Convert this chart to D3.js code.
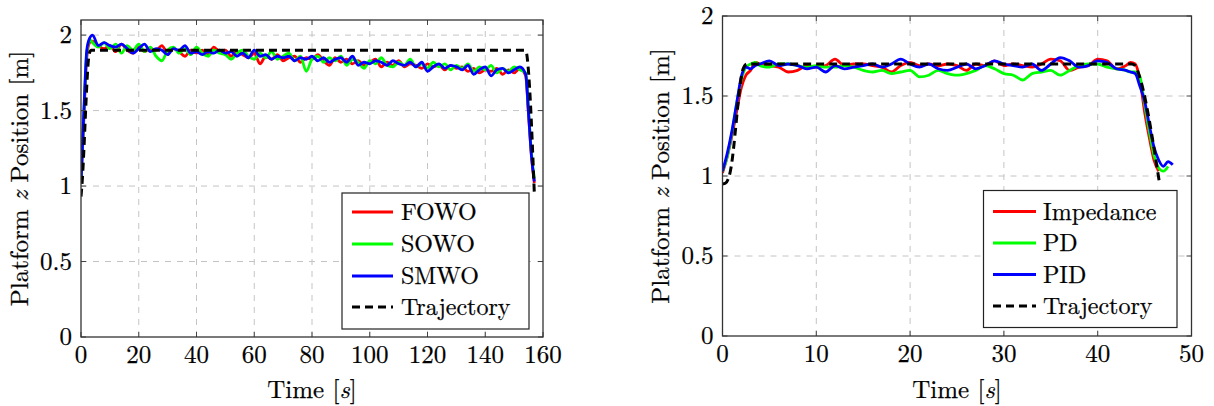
<!DOCTYPE html>
<html>
<head>
<meta charset="utf-8">
<script src="https://cdn.jsdelivr.net/npm/d3@7"></script>
<style>
  html, body { margin: 0; padding: 0; background: #fff; }
  svg { display: block; }
</style>
</head>
<body>
<svg id="chart" width="1214" height="406"></svg>
<script>
// ---------------- Left chart data ----------------
const timeLeft = [0,1,2,3,4,6,8,10,12,14,
  16,18,20,22,24,26,28,30,32,34,
  36,38,40,42,44,46,48,50,52,54,
  56,58,60,62,64,66,68,70,72,74,
  76,78,80,82,84,86,88,90,92,94,
  96,98,100,102,104,106,108,110,112,114,
  116,118,120,122,124,126,128,130,132,134,
  136,138,140,142,144,146,148,150,152,154,
  155,156,157];
const fowo = [1.02,1.45,1.85,1.95,1.96,1.93,1.91,1.93,1.89,1.94,
  1.90,1.88,1.92,1.89,1.91,1.90,1.93,1.88,1.91,1.89,
  1.86,1.90,1.88,1.90,1.87,1.92,1.89,1.90,1.86,1.89,
  1.87,1.85,1.88,1.81,1.86,1.84,1.87,1.83,1.85,1.86,
  1.82,1.85,1.84,1.87,1.83,1.80,1.85,1.82,1.84,1.81,
  1.83,1.80,1.82,1.84,1.79,1.82,1.80,1.83,1.79,1.81,
  1.80,1.78,1.81,1.79,1.80,1.77,1.80,1.78,1.79,1.76,
  1.78,1.75,1.77,1.76,1.78,1.74,1.77,1.75,1.78,1.73,
  1.47,1.20,1.02];
const sowo = [1.03,1.48,1.88,1.97,1.95,1.92,1.95,1.91,1.94,1.88,
  1.93,1.90,1.94,1.89,1.92,1.86,1.83,1.90,1.92,1.88,
  1.91,1.87,1.92,1.88,1.86,1.90,1.88,1.87,1.84,1.88,
  1.90,1.86,1.84,1.88,1.85,1.89,1.84,1.86,1.88,1.83,
  1.86,1.76,1.84,1.86,1.82,1.85,1.83,1.86,1.80,1.84,
  1.82,1.78,1.83,1.81,1.85,1.80,1.79,1.82,1.80,1.84,
  1.79,1.81,1.78,1.82,1.79,1.81,1.77,1.80,1.78,1.81,
  1.76,1.79,1.77,1.80,1.75,1.78,1.76,1.79,1.77,1.75,
  1.50,1.22,1.05];
const smwo = [1.02,1.50,1.90,1.98,2.00,1.93,1.95,1.93,1.92,1.94,
  1.91,1.88,1.91,1.94,1.89,1.91,1.90,1.87,1.91,1.90,
  1.93,1.88,1.89,1.87,1.89,1.88,1.90,1.88,1.89,1.86,
  1.88,1.85,1.90,1.86,1.87,1.84,1.86,1.85,1.86,1.83,
  1.85,1.84,1.86,1.83,1.85,1.82,1.84,1.85,1.82,1.86,
  1.80,1.82,1.81,1.83,1.82,1.80,1.83,1.81,1.80,1.82,
  1.79,1.82,1.76,1.79,1.81,1.78,1.80,1.79,1.77,1.80,
  1.74,1.77,1.79,1.73,1.77,1.78,1.75,1.77,1.79,1.74,
  1.48,1.20,1.03];
const trajTimeLeft = [0, 0.3, 2.9, 3.6, 153.6, 154.3, 154.8, 157];
const trajLeft =     [0.93, 1.0, 1.88, 1.9, 1.9, 1.88, 1.80, 0.95];

// ---------------- Right chart data ----------------
const timeRight = [0,0.5,1,1.5,2,2.5,3,3.5,4,5,
  6,7,8,9,10,11,12,13,14,15,
  16,17,18,19,20,21,22,23,24,25,
  26,27,28,29,30,31,32,33,34,35,
  36,37,38,39,40,41,42,43,43.5,44,
  44.5,45,45.5,46,46.5,47,47.5,48];
const impedance = [1.02,1.12,1.25,1.40,1.55,1.63,1.66,1.71,1.70,1.69,
  1.68,1.65,1.66,1.69,1.68,1.69,1.73,1.69,1.70,1.70,
  1.69,1.68,1.65,1.69,1.71,1.69,1.70,1.69,1.70,1.69,
  1.66,1.70,1.69,1.72,1.69,1.70,1.69,1.68,1.70,1.73,
  1.72,1.66,1.68,1.69,1.73,1.72,1.67,1.69,1.71,1.70,
  1.60,1.40,1.24,1.10,1.03,null,null,null];
const pd = [1.03,1.12,1.27,1.45,1.60,1.68,1.70,1.71,1.69,1.68,
  1.70,1.70,1.69,1.68,1.69,1.68,1.68,1.69,1.68,1.66,
  1.65,1.66,1.64,1.65,1.66,1.62,1.63,1.66,1.64,1.63,
  1.64,1.66,1.69,1.67,1.64,1.63,1.60,1.64,1.65,1.66,
  1.63,1.66,1.69,1.70,1.70,1.68,1.67,1.66,1.65,1.65,
  1.62,1.45,1.28,1.13,1.05,1.03,1.06,null];
const pid = [1.03,1.14,1.28,1.45,1.62,1.68,1.67,1.69,1.70,1.72,
  1.69,1.70,1.69,1.67,1.68,1.65,1.69,1.67,1.68,1.69,
  1.70,1.68,1.70,1.73,1.70,1.68,1.70,1.67,1.66,1.68,
  1.70,1.67,1.69,1.72,1.70,1.69,1.68,1.70,1.66,1.70,
  1.74,1.72,1.68,1.69,1.72,1.71,1.67,1.66,1.65,1.64,
  1.56,1.47,1.32,1.18,1.10,1.06,1.09,1.07];
const trajTimeRight = [0, 0.3, 0.6, 0.8, 2.2, 2.6, 43.6, 44.0, 44.3, 46.6];
const trajRight =     [0.95, 0.955, 0.98, 1.02, 1.67, 1.70, 1.70, 1.69, 1.65, 0.95];

// ---------------- Tick labels / legends ----------------
const xTicksLeft = [0,20,40,60,80,100,120,140,160];
const xTicksRight = [0,10,20,30,40,50];
const yTicks = [0,0.5,1,1.5,2];
const legendLeft = ["FOWO","SOWO","SMWO","Trajectory"];
const legendRight = ["Impedance","PD","PID","Trajectory"];
const seriesColors = ["#ff0000","#00ff00","#0000ff","#000000"];

const FONT = '"Latin Modern Roman", "Liberation Serif", serif';
const FS = 25;
const FS_LEGEND = 24;

const svg = d3.select("#chart");
svg.append("rect").attr("width", 1214).attr("height", 406).attr("fill", "#fff");

function txt(sel, size) {
  return sel.style("font-family", FONT).style("font-size", (size || FS) + "px")
    .attr("fill", "#000").attr("stroke", "#000").attr("stroke-width", 0.25);
}

function panel(cfg) {
  const x = d3.scaleLinear().domain(cfg.xDomain).range([cfg.x0, cfg.x1]);
  const y = d3.scaleLinear().domain(cfg.yDomain).range([cfg.y0, cfg.y1]);
  const g = svg.append("g");
  const clipId = "clip" + cfg.id;
  svg.append("clipPath").attr("id", clipId).append("rect")
    .attr("x", cfg.x0).attr("y", cfg.y1).attr("width", cfg.x1 - cfg.x0).attr("height", cfg.y0 - cfg.y1);

  // grid
  g.selectAll(".gx").data(cfg.xTicks.filter(t => t > cfg.xDomain[0] && t < cfg.xDomain[1])).enter().append("line")
    .attr("x1", d => x(d)).attr("x2", d => x(d)).attr("y1", cfg.y0).attr("y2", cfg.y1)
    .attr("stroke", "#c4c4c4").attr("stroke-width", 1).attr("stroke-dasharray", "6,6");
  g.selectAll(".gy").data(yTicks.filter(t => t > cfg.yDomain[0] && t < cfg.yDomain[1])).enter().append("line")
    .attr("y1", d => y(d)).attr("y2", d => y(d)).attr("x1", cfg.x0).attr("x2", cfg.x1)
    .attr("stroke", "#c4c4c4").attr("stroke-width", 1).attr("stroke-dasharray", "6,6");

  // series
  const lines = g.append("g").attr("clip-path", `url(#${clipId})`);
  cfg.series.forEach((s, i) => {
    const pts = s.t.map((t, k) => [t, s.v[k]]);
    const line = d3.line().defined(d => d[1] !== null)
      .x(d => x(d[0])).y(d => y(d[1])).curve(d3.curveMonotoneX);
    lines.append("path").datum(pts).attr("d", line)
      .attr("fill", "none").attr("stroke", seriesColors[i])
      .attr("stroke-width", s.dash ? 3 : 2.8)
      .attr("stroke-linejoin", "round")
      .attr("stroke-dasharray", s.dash ? "8,5" : null);
  });

  // ticks (inside, all sides)
  const tk = 5;
  const tg = g.append("g").attr("stroke", "#444").attr("stroke-width", 1);
  cfg.xTicks.forEach(t => {
    tg.append("line").attr("x1", x(t)).attr("x2", x(t)).attr("y1", cfg.y0).attr("y2", cfg.y0 - tk);
    tg.append("line").attr("x1", x(t)).attr("x2", x(t)).attr("y1", cfg.y1).attr("y2", cfg.y1 + tk);
  });
  yTicks.forEach(t => {
    tg.append("line").attr("y1", y(t)).attr("y2", y(t)).attr("x1", cfg.x0).attr("x2", cfg.x0 + tk);
    tg.append("line").attr("y1", y(t)).attr("y2", y(t)).attr("x1", cfg.x1).attr("x2", cfg.x1 - tk);
  });

  // frame
  g.append("rect").attr("x", cfg.x0).attr("y", cfg.y1)
    .attr("width", cfg.x1 - cfg.x0).attr("height", cfg.y0 - cfg.y1)
    .attr("fill", "none").attr("stroke", "#333").attr("stroke-width", 1.3);

  // tick labels
  txt(g.selectAll(".xl").data(cfg.xTicks).enter().append("text")
    .attr("x", d => x(d)).attr("y", cfg.y0 + 26)
    .attr("text-anchor", "middle")).text(d => d);
  txt(g.selectAll(".yl").data(yTicks).enter().append("text")
    .attr("x", cfg.x0 - 9).attr("y", d => y(d) + 8)
    .attr("text-anchor", "end")).text(d => d);

  // axis labels
  const xl = txt(g.append("text").attr("x", (cfg.x0 + cfg.x1) / 2).attr("y", 398)
    .attr("text-anchor", "middle"));
  xl.append("tspan").text("Time [");
  xl.append("tspan").style("font-style", "italic").text("s");
  xl.append("tspan").text("]");

  const yl = txt(g.append("text")
    .attr("transform", `translate(${cfg.ylx},${(cfg.y0 + cfg.y1) / 2}) rotate(-90)`)
    .attr("text-anchor", "middle"));
  yl.append("tspan").text("Platform ");
  yl.append("tspan").style("font-style", "italic").text("z");
  yl.append("tspan").text(" Position [m]");

  // legend
  const L = cfg.legend;
  g.append("rect").attr("x", L.x).attr("y", L.y).attr("width", L.w).attr("height", L.h)
    .attr("fill", "#fff").attr("stroke", "#222").attr("stroke-width", 1.2);
  cfg.legendNames.forEach((name, i) => {
    const ry = L.rows[i];
    g.append("line").attr("x1", L.lx0).attr("x2", L.lx1).attr("y1", ry).attr("y2", ry)
      .attr("stroke", seriesColors[i]).attr("stroke-width", i === 3 ? 3 : 2.8)
      .attr("stroke-dasharray", i === 3 ? "8,5" : null);
    txt(g.append("text").attr("x", L.tx).attr("y", ry + 8), FS_LEGEND).text(name);
  });
}

panel({
  id: "L", x0: 81, x1: 543, y0: 337, y1: 20,
  xDomain: [0, 160], yDomain: [0, 2.1], xTicks: xTicksLeft, ylx: 28,
  series: [
    {t: timeLeft, v: fowo}, {t: timeLeft, v: sowo}, {t: timeLeft, v: smwo},
    {t: trajTimeLeft, v: trajLeft, dash: true}
  ],
  legendNames: legendLeft,
  legend: {x: 342, y: 193, w: 187, h: 136, lx0: 352, lx1: 393, tx: 401, rows: [212, 244, 276, 307]}
});

panel({
  id: "R", x0: 722.5, x1: 1191.5, y0: 336, y1: 16,
  xDomain: [0, 50], yDomain: [0, 2], xTicks: xTicksRight, ylx: 669,
  series: [
    {t: timeRight, v: impedance}, {t: timeRight, v: pd}, {t: timeRight, v: pid},
    {t: trajTimeRight, v: trajRight, dash: true}
  ],
  legendNames: legendRight,
  legend: {x: 983.5, y: 190.5, w: 193.5, h: 137, lx0: 993, lx1: 1036, tx: 1043, rows: [211.5, 243, 274.5, 306]}
});
</script>
</body>
</html>
